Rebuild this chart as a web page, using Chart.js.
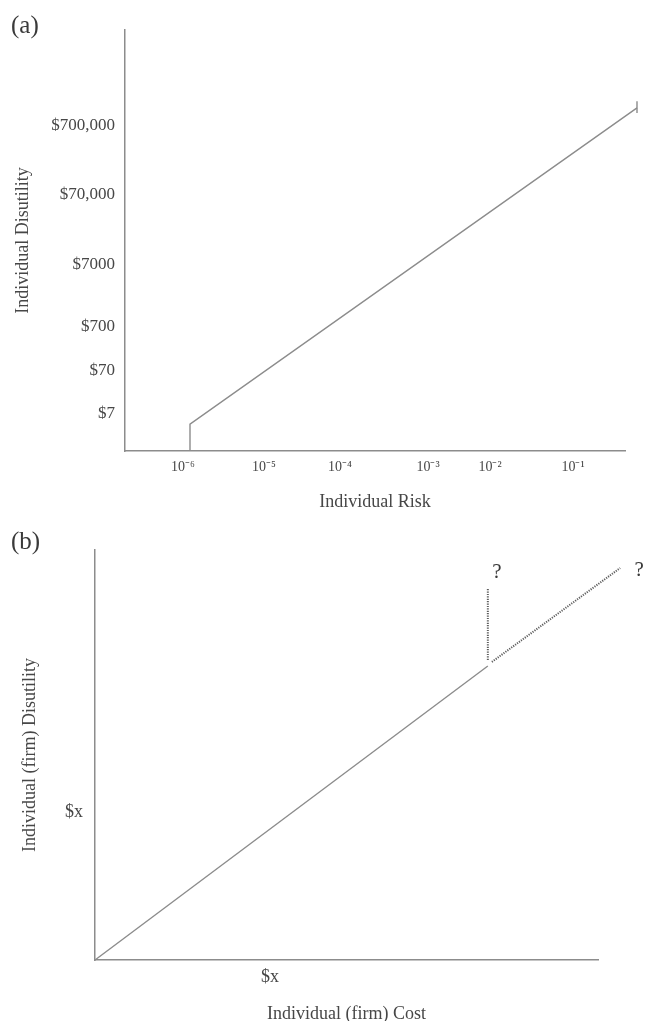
<!DOCTYPE html>
<html><head><meta charset="utf-8">
<script src="https://cdn.jsdelivr.net/npm/chart.js@4"></script>
<style>
html,body{margin:0;padding:0;background:#fff;overflow:hidden}
#wrap{position:relative;width:646px;height:1021px}
#pa{position:absolute;left:0;top:0;width:646px;height:520px}
#pb{position:absolute;left:0;top:520px;width:646px;height:501px}
</style></head><body>
<div id="wrap"><div id="pa"><canvas id="ca"></canvas></div><div id="pb"><canvas id="cb"></canvas></div></div>
<script>
// ---- Panel (a) data (schematic axis units 0-100) ----
const riskTickLabels = ['10\u207B\u2076', '10\u207B\u2075', '10\u207B\u2074', '10\u207B\u00B3', '10\u207B\u00B2', '10\u207B\u00B9'];
const riskTickValues = [11.6, 27.8, 43.0, 60.6, 73.0, 89.6];
const disutilityTickLabels = ['$700,000', '$70,000', '$7000', '$700', '$70', '$7'];
const disutilityTickValues = [77.2, 61.0, 44.2, 29.5, 19.0, 8.8];
const curveRisk = [13.0, 13.0, 102.4];
const curveDisutility = [0, 6.4, 81.5];
const capRisk = [102.4, 102.4];
const capDisutility = [83.1, 80.3];

// ---- Panel (b) data ----
const costTickLabels = ['$x'];
const costTickValues = [34.8];
const firmTickLabels = ['$x'];
const firmTickValues = [36.1];
const solidCost = [0, 78.1];
const solidDisutility = [0, 71.7];
const dottedDiagCost = [78.9, 104.4];
const dottedDiagDisutility = [72.7, 95.6];
const dottedVertCost = [78.1, 78.1];
const dottedVertDisutility = [73.2, 90.7];
const questionLabels = ['?', '?'];
const questionCost = [79.9, 108.2];
const questionDisutility = [94.6, 95.1];

Chart.defaults.font.family = '"Liberation Serif", "Times New Roman", serif';
Chart.defaults.color = '#474747';

const LINE = '#8c8c8c';
const pts = (xs, ys) => xs.map((x, i) => ({x: x, y: ys[i]}));

function axis(opts) {
  return {
    type: 'linear', min: 0, max: 100,
    grid: {display: false, drawTicks: false},
    border: {display: true, color: LINE, width: 1.5},
    ticks: {autoSkip: false, padding: opts.pad, font: {size: opts.fontSize},
            callback: (v, i) => opts.labels[i]},
    afterBuildTicks: s => { s.ticks = opts.values.map(v => ({value: v})); },
    afterFit: s => { if (opts.horizontal) s.height = opts.size; else s.width = opts.size; },
    title: {display: true, text: opts.title, color: '#474747', font: {size: 18},
            padding: {top: opts.titleTop || 0, bottom: opts.titleBottom || 0}}
  };
}

function textPlugin(panel, xKey, yKey, labels, xs, ys) {
  return {
    id: 'texts' + panel,
    afterDraw(chart) {
      const ctx = chart.ctx;
      ctx.save();
      ctx.fillStyle = '#3a3a3a';
      ctx.font = '25px "Liberation Serif", serif';
      ctx.textAlign = 'left';
      ctx.textBaseline = 'middle';
      ctx.fillText(panel, 11, panel === '(a)' ? 26 : 22);
      if (labels) {
        ctx.font = '21px "Liberation Serif", serif';
        ctx.textAlign = 'center';
        labels.forEach((t, i) => {
          ctx.fillText(t, chart.scales[xKey].getPixelForValue(xs[i]), chart.scales[yKey].getPixelForValue(ys[i]));
        });
      }
      ctx.restore();
    }
  };
}

const lineDs = (data, extra) => Object.assign({
  data: data, showLine: true, borderColor: LINE, borderWidth: 1.4,
  pointRadius: 0, clip: false, fill: false, tension: 0
}, extra || {});

const DOTTED = {borderColor: '#5e5e5e', borderDash: [1.2, 1.2], borderWidth: 2};

new Chart(document.getElementById('ca'), {
  type: 'scatter',
  data: {datasets: [
    lineDs(pts(curveRisk, curveDisutility)),
    lineDs(pts(capRisk, capDisutility))
  ]},
  options: {
    responsive: true, maintainAspectRatio: false, animation: false,
    layout: {padding: {left: 0, top: 30, right: 21, bottom: 0}},
    plugins: {legend: {display: false}, tooltip: {enabled: false}},
    scales: {
      x: axis({horizontal: true, size: 69, pad: 8, fontSize: 14, labels: riskTickLabels,
               values: riskTickValues, title: 'Individual Risk', titleBottom: 7}),
      y: axis({horizontal: false, size: 125, pad: 10, fontSize: 17, labels: disutilityTickLabels,
               values: disutilityTickValues, title: 'Individual Disutility', titleTop: 12})
    }
  },
  plugins: [textPlugin('(a)')]
});

new Chart(document.getElementById('cb'), {
  type: 'scatter',
  data: {datasets: [
    lineDs(pts(solidCost, solidDisutility)),
    lineDs(pts(dottedDiagCost, dottedDiagDisutility), DOTTED),
    lineDs(pts(dottedVertCost, dottedVertDisutility), DOTTED)
  ]},
  options: {
    responsive: true, maintainAspectRatio: false, animation: false,
    layout: {padding: {left: 0, top: 30, right: 48, bottom: 0}},
    plugins: {legend: {display: false}, tooltip: {enabled: false}},
    scales: {
      x: axis({horizontal: true, size: 61, pad: 6, fontSize: 18, labels: costTickLabels,
               values: costTickValues, title: 'Individual (firm) Cost', titleBottom: -4}),
      y: axis({horizontal: false, size: 95, pad: 12, fontSize: 18, labels: firmTickLabels,
               values: firmTickValues, title: 'Individual (firm) Disutility', titleTop: 19})
    }
  },
  plugins: [textPlugin('(b)', 'x', 'y', questionLabels, questionCost, questionDisutility)]
});
</script>
</body></html>
